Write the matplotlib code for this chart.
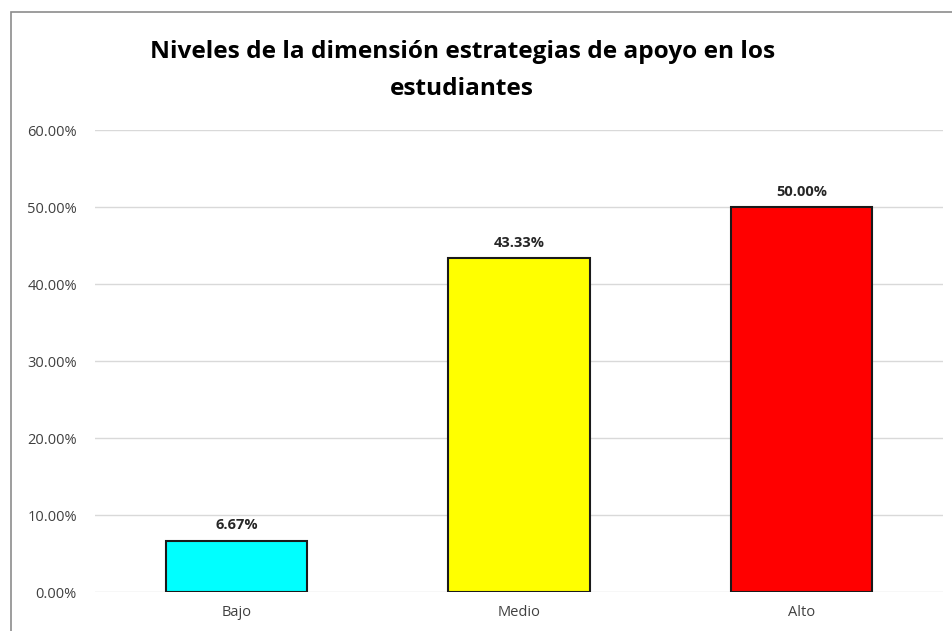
import matplotlib.pyplot as plt
from matplotlib.patches import Rectangle
from matplotlib.ticker import FuncFormatter

categories = ['Bajo', 'Medio', 'Alto']
values = [6.67, 43.33, 50.00]
colors = ['#00FFFF', '#FFFF00', '#FF0000']
title = 'Niveles de la dimensión estrategias de apoyo en los\nestudiantes'

plt.rcParams['font.family'] = ['Open Sans', 'DejaVu Sans']

fig = plt.figure(figsize=(9.53, 6.31), dpi=100)
ax = fig.add_axes([0.0997, 0.0618, 0.8898, 0.732])

x = range(len(categories))
bars = ax.bar(x, values, width=0.5, color=colors, edgecolor='#1a1a1a', linewidth=1.5, zorder=3)
for b, v in zip(bars, values):
    ax.annotate('%.2f%%' % v, (b.get_x() + b.get_width() / 2, v), xytext=(0, 6),
                textcoords='offset points', ha='center', va='bottom',
                fontsize=10.5, fontweight='bold', color='#262626')

ax.set_xlim(-0.5, 2.5)
ax.set_ylim(0, 60)
ax.set_yticks(range(0, 61, 10))
ax.yaxis.set_major_formatter(FuncFormatter(lambda v, p: '%.2f%%' % v))
ax.set_xticks(list(x))
ax.set_xticklabels(categories)
ax.tick_params(axis='both', length=0, labelsize=10.5, labelcolor='#404040')
ax.tick_params(axis='y', pad=13)
ax.tick_params(axis='x', pad=9)
ax.grid(axis='y', color='#d9d9d9', linewidth=1, zorder=0)
for s in ax.spines.values():
    s.set_visible(False)

fig.text(0.485, 0.888, title, ha='center', va='center', fontsize=17.6,
         fontweight='bold', color='#000000', linespacing=1.7)

fig.patches.append(Rectangle((11 / 953, -0.05), 1.2, 0.981 + 0.05, transform=fig.transFigure,
                             fill=False, edgecolor='#8c8c8c', linewidth=1.2))

fig.savefig('out.png', dpi=100)
